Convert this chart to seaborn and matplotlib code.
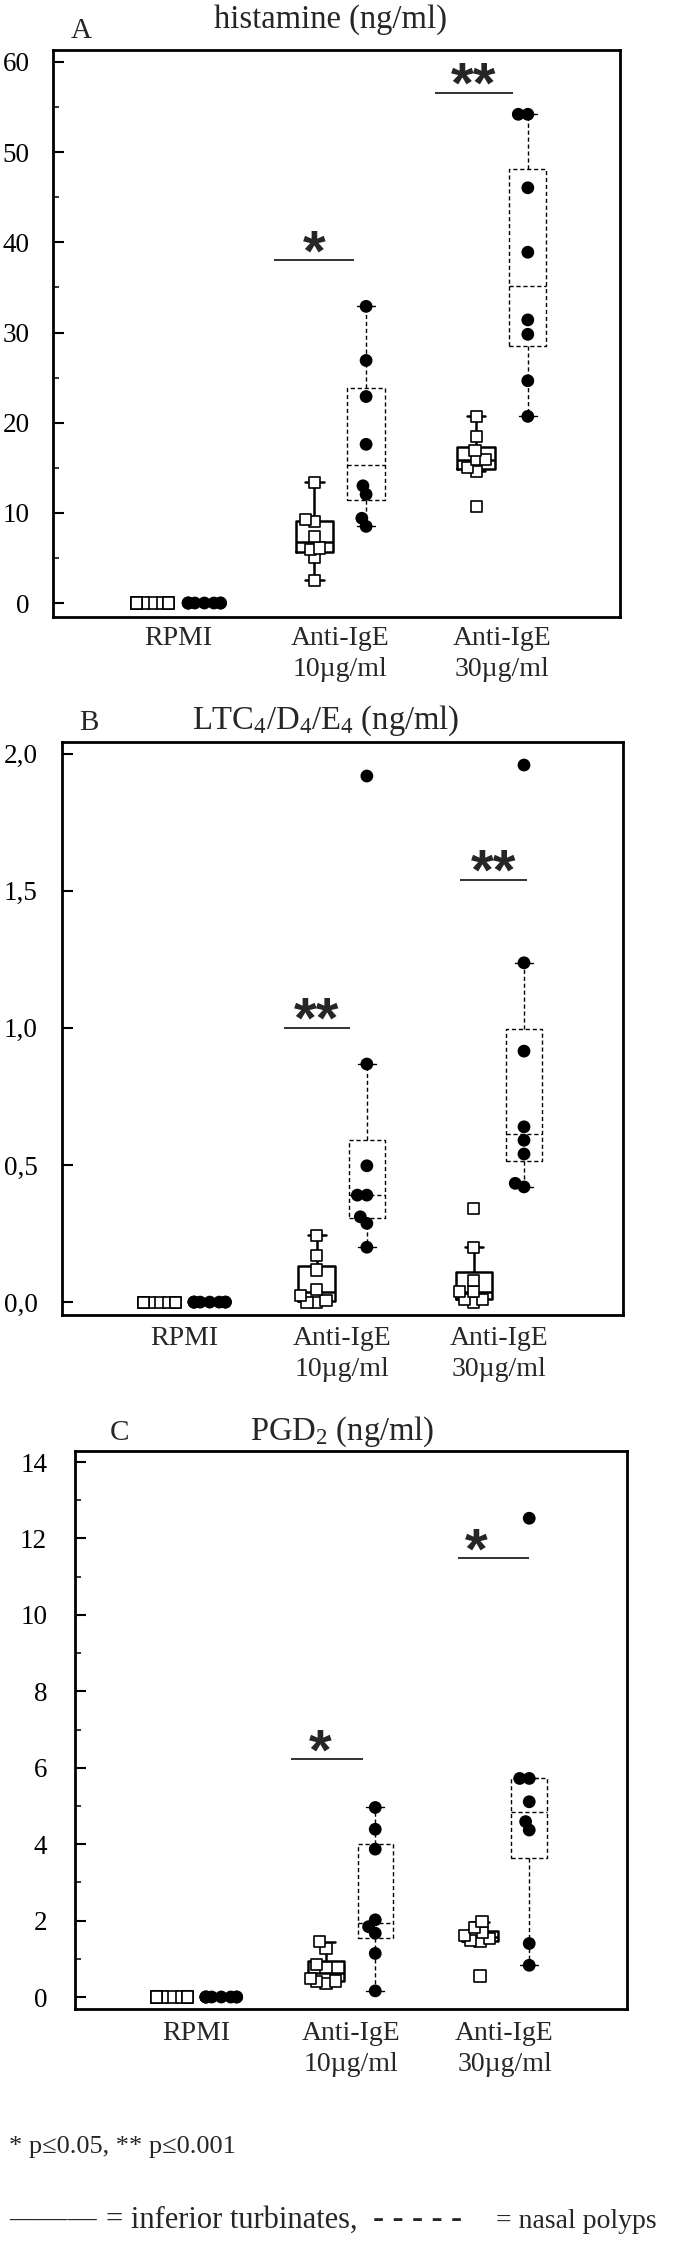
import pandas as pd
import matplotlib.pyplot as plt
import seaborn as sns
from seaborn.categorical import Beeswarm
from matplotlib.ticker import MultipleLocator

# groups on the x axis
stims = ["RPMI", "IgE10", "IgE30"]
stim_labels = ["RPMI", "Anti-IgE\n10µg/ml", "Anti-IgE\n30µg/ml"]
tissues = ["IT", "NP"]  # inferior turbinates, nasal polyps

# A - histamine (ng/ml)
hist_it_rpmi = [0, 0, 0, 0, 0, 0, 0, 0]
hist_it_10 = [2.5, 5.0, 5.9, 6.1, 7.4, 9.0, 9.3, 13.4]
hist_it_30 = [10.75, 14.6, 15.0, 15.9, 15.9, 16.9, 18.5, 20.7]
hist_np_rpmi = [0, 0, 0, 0, 0, 0, 0, 0]
hist_np_10 = [8.5, 9.4, 12.05, 13.0, 17.6, 22.9, 26.9, 32.9]
hist_np_30 = [20.7, 24.65, 29.8, 31.4, 38.9, 46.05, 54.2, 54.2]
hist_ticks = [0, 10, 20, 30, 40, 50, 60]
hist_ticklabels = ["0", "10", "20", "30", "40", "50", "60"]
hist_sig = [(1, 38.0, "*"), (2, 56.6, "**")]

# B - LTC4/D4/E4 (ng/ml)
ltc_it_rpmi = [0, 0, 0, 0, 0, 0, 0, 0]
ltc_it_10 = [0.0, 0.0, 0.005, 0.025, 0.047, 0.117, 0.171, 0.244]
ltc_it_30 = [0.0, 0.01, 0.01, 0.038, 0.038, 0.08, 0.20, 0.342]
ltc_np_rpmi = [0, 0, 0, 0, 0, 0, 0, 0]
ltc_np_10 = [0.20, 0.287, 0.311, 0.39, 0.39, 0.497, 0.868, 1.918]
ltc_np_30 = [0.42, 0.433, 0.54, 0.59, 0.639, 0.915, 1.237, 1.958]
ltc_ticks = [0.0, 0.5, 1.0, 1.5, 2.0]
ltc_ticklabels = ["0,0", "0,5", "1,0", "1,5", "2,0"]
ltc_sig = [(1, 1.0, "**"), (2, 1.54, "**")]

# C - PGD2 (ng/ml)
pgd_it_rpmi = [0, 0, 0, 0, 0, 0, 0, 0]
pgd_it_10 = [0.35, 0.40, 0.42, 0.48, 0.78, 0.85, 1.27, 1.45]
pgd_it_30 = [0.55, 1.45, 1.47, 1.52, 1.62, 1.68, 1.82, 1.97]
pgd_np_rpmi = [0, 0, 0, 0, 0, 0, 0, 0]
pgd_np_10 = [0.16, 1.14, 1.67, 1.84, 2.02, 3.87, 4.39, 4.96]
pgd_np_30 = [0.83, 1.40, 4.37, 4.59, 5.11, 5.72, 5.72, 12.53]
pgd_ticks = [0, 2, 4, 6, 8, 10, 12, 14]
pgd_ticklabels = ["0", "2", "4", "6", "8", "10", "12", "14"]
pgd_sig = [(1, 6.22, "*"), (2, 11.48, "*")]


def long_table(it_lists, np_lists):
    rows = []
    for tissue, lists in (("IT", it_lists), ("NP", np_lists)):
        for stim, vals in zip(stims, lists):
            for v in vals:
                rows.append({"stim": stim, "tissue": tissue, "value": v})
    return pd.DataFrame(rows)


sns.set_style("ticks")
plt.rcParams["font.family"] = ["Liberation Serif", "DejaVu Serif"]
plt.rcParams["mathtext.fontset"] = "custom"
plt.rcParams["mathtext.rm"] = "Liberation Serif"
plt.rcParams["mathtext.default"] = "regular"

W, H = 685, 2265
fig = plt.figure(figsize=(W / 100, H / 100), dpi=100)

panels = [
    dict(df=long_table([hist_it_rpmi, hist_it_10, hist_it_30], [hist_np_rpmi, hist_np_10, hist_np_30]),
         rect=(53, 50, 620, 617), ylim=(-1.55, 61.33), xlim=(-0.776, 2.73),
         ticks=hist_ticks, ticklabels=hist_ticklabels, minor=5, ypad=17, xpad=6.5,
         title="histamine (ng/ml)", title_xy=(330, 28), letter="A", letter_xy=(71, 38),
         sig=hist_sig, sig_pos=[(-0.162, 0.247, 0.0), (-0.173, 0.241, 0.0)]),
    dict(df=long_table([ltc_it_rpmi, ltc_it_10, ltc_it_30], [ltc_np_rpmi, ltc_np_10, ltc_np_30]),
         rect=(62, 742, 623, 1315), ylim=(-0.047, 2.042), xlim=(-0.78, 2.79),
         ticks=ltc_ticks, ticklabels=ltc_ticklabels, minor=None, ypad=17.5, xpad=8,
         title="LTC$_4$/D$_4$/E$_4$ (ng/ml)", title_xy=(326, 729), letter="B", letter_xy=(79, 730),
         sig=ltc_sig, sig_pos=[(-0.159, 0.21, 0.0), (-0.032, 0.213, 0.0)]),
    dict(df=long_table([pgd_it_rpmi, pgd_it_10, pgd_it_30], [pgd_np_rpmi, pgd_np_10, pgd_np_30]),
         rect=(75, 1451, 627, 2009), ylim=(-0.314, 14.29), xlim=(-0.79, 2.795),
         ticks=pgd_ticks, ticklabels=pgd_ticklabels, minor=1, ypad=20, xpad=8.5,
         title="PGD$_2$ (ng/ml)", title_xy=(342, 1440), letter="C", letter_xy=(110, 1440),
         sig=pgd_sig, sig_pos=[(-0.156, 0.234, -0.04), (-0.071, 0.229, -0.113)]),
]

box_style = {"IT": ("-", 1.8), "NP": ((0, (3, 2)), 1.0)}
# five hue slots: the two real ones land at +-0.16, same as the dodged boxes
point_levels = ["pad0", "IT", "pad1", "NP", "pad2"]
point_palette = {"pad0": "white", "IT": "white", "pad1": "white", "NP": "black", "pad2": "white"}
point_marker = {"IT": "s", "NP": "o"}
swarm = Beeswarm(orient="x", width=0.2, warn_thresh=1)

for p in panels:
    l, t, r, b = p["rect"]
    ax = fig.add_axes([l / W, 1 - b / H, (r - l) / W, (b - t) / H])
    df = p["df"]
    point_colls = []
    for tissue in tissues:
        sub = df[df["tissue"] == tissue]
        ls, lw = box_style[tissue]
        sns.boxplot(data=sub, x="stim", y="value", hue="tissue", order=stims,
                    hue_order=tissues, palette={"IT": "black", "NP": "black"},
                    dodge=True, width=0.64, gap=0.28, fill=False, showfliers=False,
                    linewidth=lw, legend=False, ax=ax,
                    boxprops={"linestyle": ls}, medianprops={"linestyle": ls},
                    whiskerprops={"linestyle": ls})
        n = len(ax.collections)
        sns.stripplot(data=sub, x="stim", y="value", hue="tissue", order=stims,
                      hue_order=point_levels, palette=point_palette, dodge=True,
                      jitter=False, marker=point_marker[tissue], size=8,
                      edgecolor="black", linewidth=1.2, legend=False, ax=ax)
        point_colls += ax.collections[n:]

    # significance bars
    for (grp, yv, stars), (off, hw, sdx) in zip(p["sig"], p["sig_pos"]):
        c = grp + off
        ax.hlines(yv, c - hw, c + hw, color="#222222", lw=1.3)
        ax.annotate(stars, xy=(c + sdx, yv), xytext=(0, -7), textcoords="offset points",
                    ha="center", va="baseline", fontsize=42, fontweight="bold",
                    family="Liberation Sans")

    ax.set_xlim(*p["xlim"])
    ax.set_ylim(*p["ylim"])
    ax.set_yticks(p["ticks"])
    ax.set_yticklabels(p["ticklabels"])
    if p["minor"]:
        ax.yaxis.set_minor_locator(MultipleLocator(p["minor"]))
    ax.set_xticks(range(len(stims)))
    ax.set_xticklabels(stim_labels)
    for lbl in ax.get_xticklabels():
        lbl.set_linespacing(1.3)
    ax.tick_params(axis="y", which="major", direction="in", length=8, width=1.5,
                   labelsize=19.5, pad=p["ypad"], colors="black")
    ax.tick_params(axis="y", which="minor", direction="in", length=4.5, width=1.3)
    ax.tick_params(axis="x", length=0, labelsize=20, pad=p["xpad"])
    ax.set_xlabel("")
    ax.set_ylabel("")
    for s in ax.spines.values():
        s.set_visible(True)
        s.set_linewidth(2)
        s.set_color("black")

    # spread tied points sideways once the limits are final;
    # swarm on a smaller footprint so equal values overlap like in the original
    for coll in point_colls:
        xy = coll.get_offsets()
        if len(xy) > 1:
            full = coll.get_sizes().copy()
            coll.set_sizes(full / 2.25)
            swarm(coll, xy[0, 0])
            coll.set_sizes(full)

    fig.text(p["title_xy"][0] / W, 1 - p["title_xy"][1] / H, p["title"],
             ha="center", va="baseline", fontsize=23.5)
    fig.text(p["letter_xy"][0] / W, 1 - p["letter_xy"][1] / H, p["letter"],
             ha="left", va="baseline", fontsize=21)

# footnotes
fig.text(9 / W, 1 - 2153 / H, "* p≤0.05, ** p≤0.001", ha="left", va="baseline", fontsize=19)
fig.text(9 / W, 1 - 2228 / H, "———", ha="left", va="baseline", fontsize=21)
fig.text(106 / W, 1 - 2228 / H, "= inferior turbinates,", ha="left", va="baseline", fontsize=22)
fig.text(373 / W, 1 - 2228 / H, "- - - - -", ha="left", va="baseline", fontsize=24)
fig.text(496 / W, 1 - 2228 / H, "= nasal polyps", ha="left", va="baseline", fontsize=20)

fig.savefig("out.png", dpi=100)
